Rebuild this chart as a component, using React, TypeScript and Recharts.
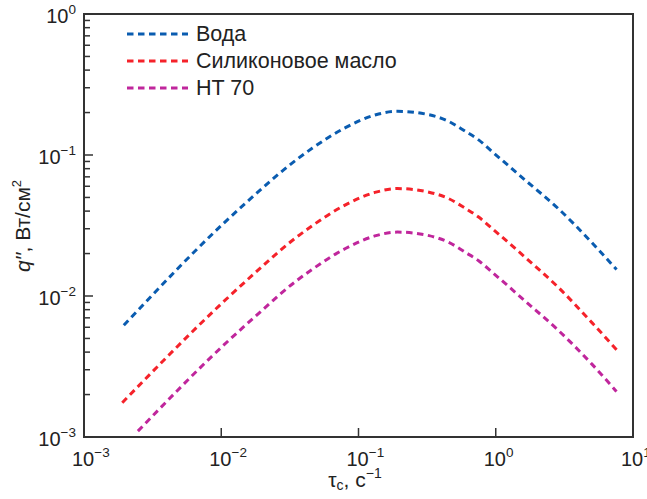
import React from 'react'
import { LineChart, Line, XAxis, YAxis, ReferenceArea } from 'recharts'

// tau_c, 1/s  and  q'', W/cm2
const waterX = [0.00195, 0.01, 0.0227, 0.0265, 0.0462, 0.081, 0.134, 0.192, 0.326, 0.455, 0.601, 0.75, 0.938, 1.64, 2.86, 5.0, 7.59]
const waterY = [0.0062, 0.0316, 0.065, 0.074, 0.112, 0.157, 0.193, 0.204, 0.193, 0.173, 0.147, 0.128, 0.106, 0.0663, 0.0416, 0.024, 0.0154]

const oilX = [0.0019, 0.01, 0.0227, 0.0265, 0.0462, 0.081, 0.134, 0.192, 0.326, 0.455, 0.601, 0.75, 0.938, 1.64, 2.86, 5.0, 7.59]
const oilY = [0.00175, 0.0088, 0.0182, 0.0208, 0.0316, 0.0445, 0.0545, 0.0578, 0.0545, 0.049, 0.0418, 0.0363, 0.0302, 0.0188, 0.0115, 0.0065, 0.00416]

const htX = [0.00247, 0.01, 0.0227, 0.0265, 0.0462, 0.081, 0.134, 0.192, 0.326, 0.455, 0.601, 0.75, 0.938, 1.64, 2.86, 5.0, 7.59]
const htY = [0.0011, 0.00432, 0.0089, 0.0102, 0.0155, 0.0218, 0.0268, 0.0284, 0.0268, 0.024, 0.0204, 0.0178, 0.0148, 0.0092, 0.0057, 0.0033, 0.0021]

const xTicks = [0.001, 0.01, 0.1, 1, 10]
const yTicks = [
  0.001, 0.002, 0.003, 0.004, 0.005, 0.006, 0.007, 0.008, 0.009,
  0.01, 0.02, 0.03, 0.04, 0.05, 0.06, 0.07, 0.08, 0.09,
  0.1, 0.2, 0.3, 0.4, 0.5, 0.6, 0.7, 0.8, 0.9,
  1,
]

const SERIES = [
  { name: 'Вода', x: waterX, y: waterY, color: '#0a5cb0' },
  { name: 'Силиконовое масло', x: oilX, y: oilY, color: '#f5222a' },
  { name: 'HT 70', x: htX, y: htY, color: '#c0269c' },
]

const FONT = '"Liberation Sans", Arial, Helvetica, sans-serif'
const AXIS = '#333'
const DASH = '6.5 4.5'

const toRows = (xs: number[], ys: number[]) => xs.map((x, i) => ({ x, y: ys[i] }))

const expOf = (v: number) => Math.round(Math.log10(v))
const isMajor = (v: number) => Math.abs(Math.log10(v) - expOf(v)) < 1e-9
const expText = (e: number) => (e < 0 ? '\u2212' + Math.abs(e) : String(e))

function XTick(props: any) {
  const { x, y, payload } = props
  const e = expOf(payload.value)
  return (
    <g>
      <line x1={x} x2={x} y1={y} y2={y - 9} stroke={AXIS} strokeWidth={1.5} />
      <text x={x - 12} y={y + 29} textAnchor="start" fill="#222" fontFamily={FONT}>
        <tspan fontSize={20}>10</tspan>
        <tspan fontSize={13.5} dy={-9}>{expText(e)}</tspan>
      </text>
    </g>
  )
}

function YTick(props: any) {
  const { x, y, payload } = props
  const major = isMajor(payload.value)
  if (!major) {
    return <line x1={x} x2={x + 6} y1={y} y2={y} stroke={AXIS} strokeWidth={1.5} />
  }
  const e = expOf(payload.value)
  return (
    <g>
      <line x1={x} x2={x + 9} y1={y} y2={y} stroke={AXIS} strokeWidth={1.5} />
      <text x={x - 8} y={y + 9} textAnchor="end" fill="#222" fontFamily={FONT}>
        <tspan fontSize={20}>10</tspan>
        <tspan fontSize={13.5} dy={-9}>{expText(e)}</tspan>
      </text>
    </g>
  )
}

export default function App() {
  return (
    <div style={{ position: 'absolute', left: 0, top: 0, width: 647, height: 499, background: '#fff', fontFamily: FONT }}>
      <LineChart width={647} height={499} margin={{ top: 14, right: 14, bottom: 0, left: 0 }}>
        <XAxis
          type="number"
          dataKey="x"
          scale="log"
          domain={[0.001, 10]}
          ticks={xTicks}
          interval={0}
          allowDataOverflow
          height={62}
          tickSize={0}
          tickMargin={0}
          tickLine={false}
          axisLine={{ stroke: AXIS, strokeWidth: 2 }}
          tick={<XTick />}
        />
        <YAxis
          type="number"
          dataKey="y"
          scale="log"
          domain={[0.001, 1]}
          ticks={yTicks}
          interval={0}
          allowDataOverflow
          width={84}
          tickSize={0}
          tickMargin={0}
          tickLine={false}
          axisLine={{ stroke: AXIS, strokeWidth: 2 }}
          tick={<YTick />}
        />
        <ReferenceArea x1={0.001} x2={10} y1={0.001} y2={1} fill="none" stroke={AXIS} strokeWidth={2} ifOverflow="visible" />
        {SERIES.map((s) => (
          <Line
            key={s.name}
            data={toRows(s.x, s.y)}
            dataKey="y"
            type="monotone"
            stroke={s.color}
            strokeWidth={3}
            strokeDasharray={DASH}
            dot={false}
            isAnimationActive={false}
          />
        ))}
      </LineChart>

      <svg width={647} height={499} style={{ position: 'absolute', left: 0, top: 0, pointerEvents: 'none' }}>
        {SERIES.map((s, i) => (
          <g key={s.name}>
            <line x1={127} x2={188} y1={34 + i * 27} y2={34 + i * 27} stroke={s.color} strokeWidth={3} strokeDasharray={DASH} />
            <text x={196} y={41 + i * 27} fontSize={21.5} fontFamily={FONT} fill="#222">{s.name}</text>
          </g>
        ))}
        <text x={355} y={487} textAnchor="middle" fontFamily={FONT} fill="#222" fontSize={21}>
          τ<tspan fontSize={14} dy={3}>c</tspan><tspan dy={-3}>, с</tspan><tspan fontSize={14} dy={-9}>−1</tspan>
        </text>
        <text transform="translate(30,226) rotate(-90)" textAnchor="middle" fontFamily={FONT} fill="#222" fontSize={21}>
          <tspan fontStyle="italic">q′′</tspan>, Вт/см<tspan fontSize={13} dy={-9}>2</tspan>
        </text>
      </svg>
    </div>
  )
}
